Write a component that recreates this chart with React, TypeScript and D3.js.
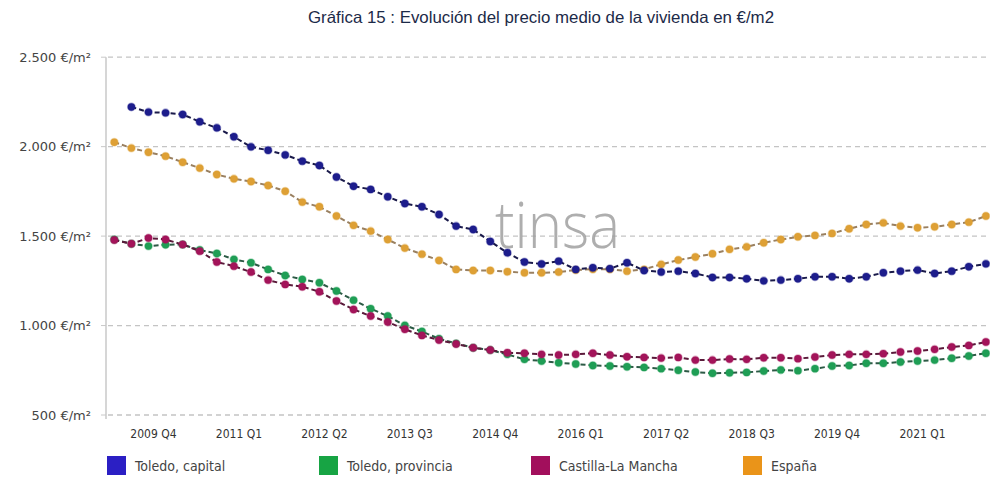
import React, { useEffect, useRef } from 'react';
import * as d3 from 'd3';

// quarters from 2009 Q2 to 2022 Q1
const startYear = 2009;
const startQuarter = 2;
const quarterCount = 52;
const quarters = d3.range(quarterCount).map((i) => {
  const t = startYear * 4 + (startQuarter - 1) + i;
  return `${Math.floor(t / 4)} Q${(t % 4) + 1}`;
});

const tickLabels = [
  '2009 Q4', '2011 Q1', '2012 Q2', '2013 Q3', '2014 Q4',
  '2016 Q1', '2017 Q2', '2018 Q3', '2019 Q4', '2021 Q1',
];
const yTicks = [500, 1000, 1500, 2000, 2500];

const seriesNames = ['Toledo, capital', 'Toledo, provincia', 'Castilla-La Mancha', 'España'];
const markerColors = ['#1d1d8c', '#1f9e55', '#a3145a', '#dea035'];
const lineColors = ['#1a1a4a', '#2c5a45', '#5a1a3a', '#9a8060'];
const legendColors = ['#2b1fc4', '#17a444', '#a20f5c', '#ea9419'];

const toledoCapital = [
  null, 2222, 2193, 2189, 2180, 2139, 2105, 2055, 1999, 1980, 1954, 1919, 1895,
  1830, 1779, 1761, 1720, 1682, 1664, 1621, 1556, 1537, 1470, 1407, 1355, 1344,
  1360, 1314, 1323, 1318, 1351, 1308, 1299, 1304, 1291, 1269, 1269, 1262, 1250,
  1254, 1262, 1273, 1273, 1262, 1273, 1295, 1304, 1310, 1291, 1304, 1329, 1345,
];
const toledoProvincia = [
  1481, 1457, 1444, 1452, 1453, 1422, 1403, 1370, 1351, 1314, 1280, 1258, 1239,
  1193, 1142, 1094, 1053, 1001, 967, 926, 900, 876, 863, 839, 811, 802,
  792, 785, 777, 774, 770, 766, 759, 750, 740, 733, 736, 738, 746,
  752, 748, 759, 774, 777, 789, 789, 796, 802, 807, 817, 830, 845,
];
const castillaLaMancha = [
  1478, 1457, 1489, 1481, 1453, 1416, 1355, 1332, 1299, 1254, 1230, 1217, 1189,
  1137, 1090, 1053, 1020, 979, 945, 919, 897, 876, 863, 848, 845, 839,
  835, 839, 845, 835, 826, 822, 818, 822, 807, 807, 813, 811, 820,
  820, 815, 824, 835, 839, 839, 843, 852, 858, 867, 880, 889, 908,
];
const espana = [
  2025, 1992, 1969, 1947, 1913, 1880, 1844, 1820, 1805, 1783, 1751, 1690, 1664,
  1612, 1560, 1528, 1481, 1433, 1399, 1364, 1314, 1308, 1308, 1301, 1295, 1295,
  1299, 1310, 1315, 1315, 1304, 1314, 1342, 1366, 1383, 1401, 1426, 1440, 1463,
  1481, 1496, 1504, 1515, 1541, 1565, 1574, 1556, 1547, 1552, 1565, 1578, 1612,
];

const seriesValues = [toledoCapital, toledoProvincia, castillaLaMancha, espana];
const drawOrder = [3, 0, 1, 2];

const W = 990;
const H = 477;
const font = "'DejaVu Sans Condensed', 'DejaVu Sans', sans-serif";

const locale = d3.formatLocale({ decimal: ',', thousands: '.', grouping: [3], currency: ['', '€'] });
const fmt = locale.format(',d');

const Chart = () => {
  const ref = useRef<SVGSVGElement>(null);

  useEffect(() => {
    const svg = d3.select(ref.current);
    svg.selectAll('*').remove();

    const x = d3.scalePoint().domain(quarters).range([114.3, 985.9]);
    const y = d3.scaleLinear().domain([500, 2500]).range([415, 57.2]);

    svg
      .append('text')
      .attr('x', 541)
      .attr('y', 23)
      .attr('text-anchor', 'middle')
      .attr('font-family', "'Liberation Sans Narrow', 'Liberation Sans', sans-serif")
      .attr('font-size', 16.5)
      .attr('textLength', 466)
      .attr('lengthAdjust', 'spacingAndGlyphs')
      .attr('fill', '#1c2a48')
      .text('Gráfica 15 : Evolución del precio medio de la vivienda en €/m2');

    // grid
    svg
      .append('g')
      .selectAll('line')
      .data(yTicks)
      .enter()
      .append('line')
      .attr('x1', 108)
      .attr('x2', W)
      .attr('y1', (d) => y(d))
      .attr('y2', (d) => y(d))
      .attr('stroke', '#c4c4c4')
      .attr('stroke-width', 1.3)
      .attr('stroke-dasharray', '5,4');

    // y axis
    svg
      .append('line')
      .attr('x1', 106)
      .attr('x2', 106)
      .attr('y1', y(2500))
      .attr('y2', y(500) + 4)
      .attr('stroke', '#c8c8c8')
      .attr('stroke-width', 1.5);

    const yAxis = svg.append('g');
    yAxis
      .selectAll('line')
      .data(yTicks)
      .enter()
      .append('line')
      .attr('x1', 101)
      .attr('x2', 106)
      .attr('y1', (d) => y(d))
      .attr('y2', (d) => y(d))
      .attr('stroke', '#c8c8c8');
    yAxis
      .selectAll('text')
      .data(yTicks)
      .enter()
      .append('text')
      .attr('x', 91)
      .attr('y', (d) => y(d))
      .attr('dy', '0.35em')
      .attr('text-anchor', 'end')
      .attr('font-family', "'DejaVu Sans', sans-serif")
      .attr('font-size', 13)
      .attr('fill', '#444')
      .text((d) => `${fmt(d)} €/m²`);

    // x labels
    svg
      .append('g')
      .selectAll('text')
      .data(tickLabels)
      .enter()
      .append('text')
      .attr('x', (d) => (x(d) ?? 0) + 5)
      .attr('y', 438)
      .attr('text-anchor', 'middle')
      .attr('font-family', font)
      .attr('font-size', 12)
      .attr('fill', '#333')
      .text((d) => d);

    // watermark
    svg
      .append('text')
      .attr('x', 495)
      .attr('y', 248)
      .attr('font-family', "'Open Sans', 'Noto Sans', sans-serif")
      .attr('font-weight', 300)
      .attr('font-size', 64)
      .attr('textLength', 125)
      .attr('lengthAdjust', 'spacingAndGlyphs')
      .attr('fill', '#a0a0a0')
      .attr('opacity', 0.85)
      .text('tinsa');

    const line = d3
      .line<number | null>()
      .defined((d) => d != null)
      .x((d, i) => x(quarters[i]) ?? 0)
      .y((d) => y(d as number));

    drawOrder.forEach((s) => {
      const g = svg.append('g');
      g.append('path')
        .datum(seriesValues[s])
        .attr('d', line)
        .attr('fill', 'none')
        .attr('stroke', lineColors[s])
        .attr('stroke-width', 2)
        .attr('stroke-dasharray', '5,3');
      g.selectAll('circle')
        .data(seriesValues[s].map((v, i) => ({ v, q: quarters[i] })).filter((d) => d.v != null))
        .enter()
        .append('circle')
        .attr('cx', (d) => x(d.q) ?? 0)
        .attr('cy', (d) => y(d.v as number))
        .attr('r', 3.7)
        .attr('fill', markerColors[s])
        .attr('stroke', markerColors[s])
        .attr('stroke-opacity', 0.35)
        .attr('stroke-width', 1.6);
    });

    // legend
    const legend = svg
      .append('g')
      .selectAll('g')
      .data(seriesNames)
      .enter()
      .append('g')
      .attr('transform', (d, i) => `translate(${107 + i * 212}, 456)`);
    legend
      .append('rect')
      .attr('width', 19)
      .attr('height', 19)
      .attr('fill', (d, i) => legendColors[i]);
    legend
      .append('text')
      .attr('x', 28)
      .attr('y', 10)
      .attr('dy', '0.35em')
      .attr('font-family', font)
      .attr('font-size', 14)
      .attr('fill', '#444')
      .text((d) => d);
  }, []);

  return <svg ref={ref} width={W} height={H} style={{ display: 'block', background: '#fff' }} />;
};

export default function App() {
  return (
    <>
      <style>{'body{margin:0;background:#fff}'}</style>
      <Chart />
    </>
  );
}
